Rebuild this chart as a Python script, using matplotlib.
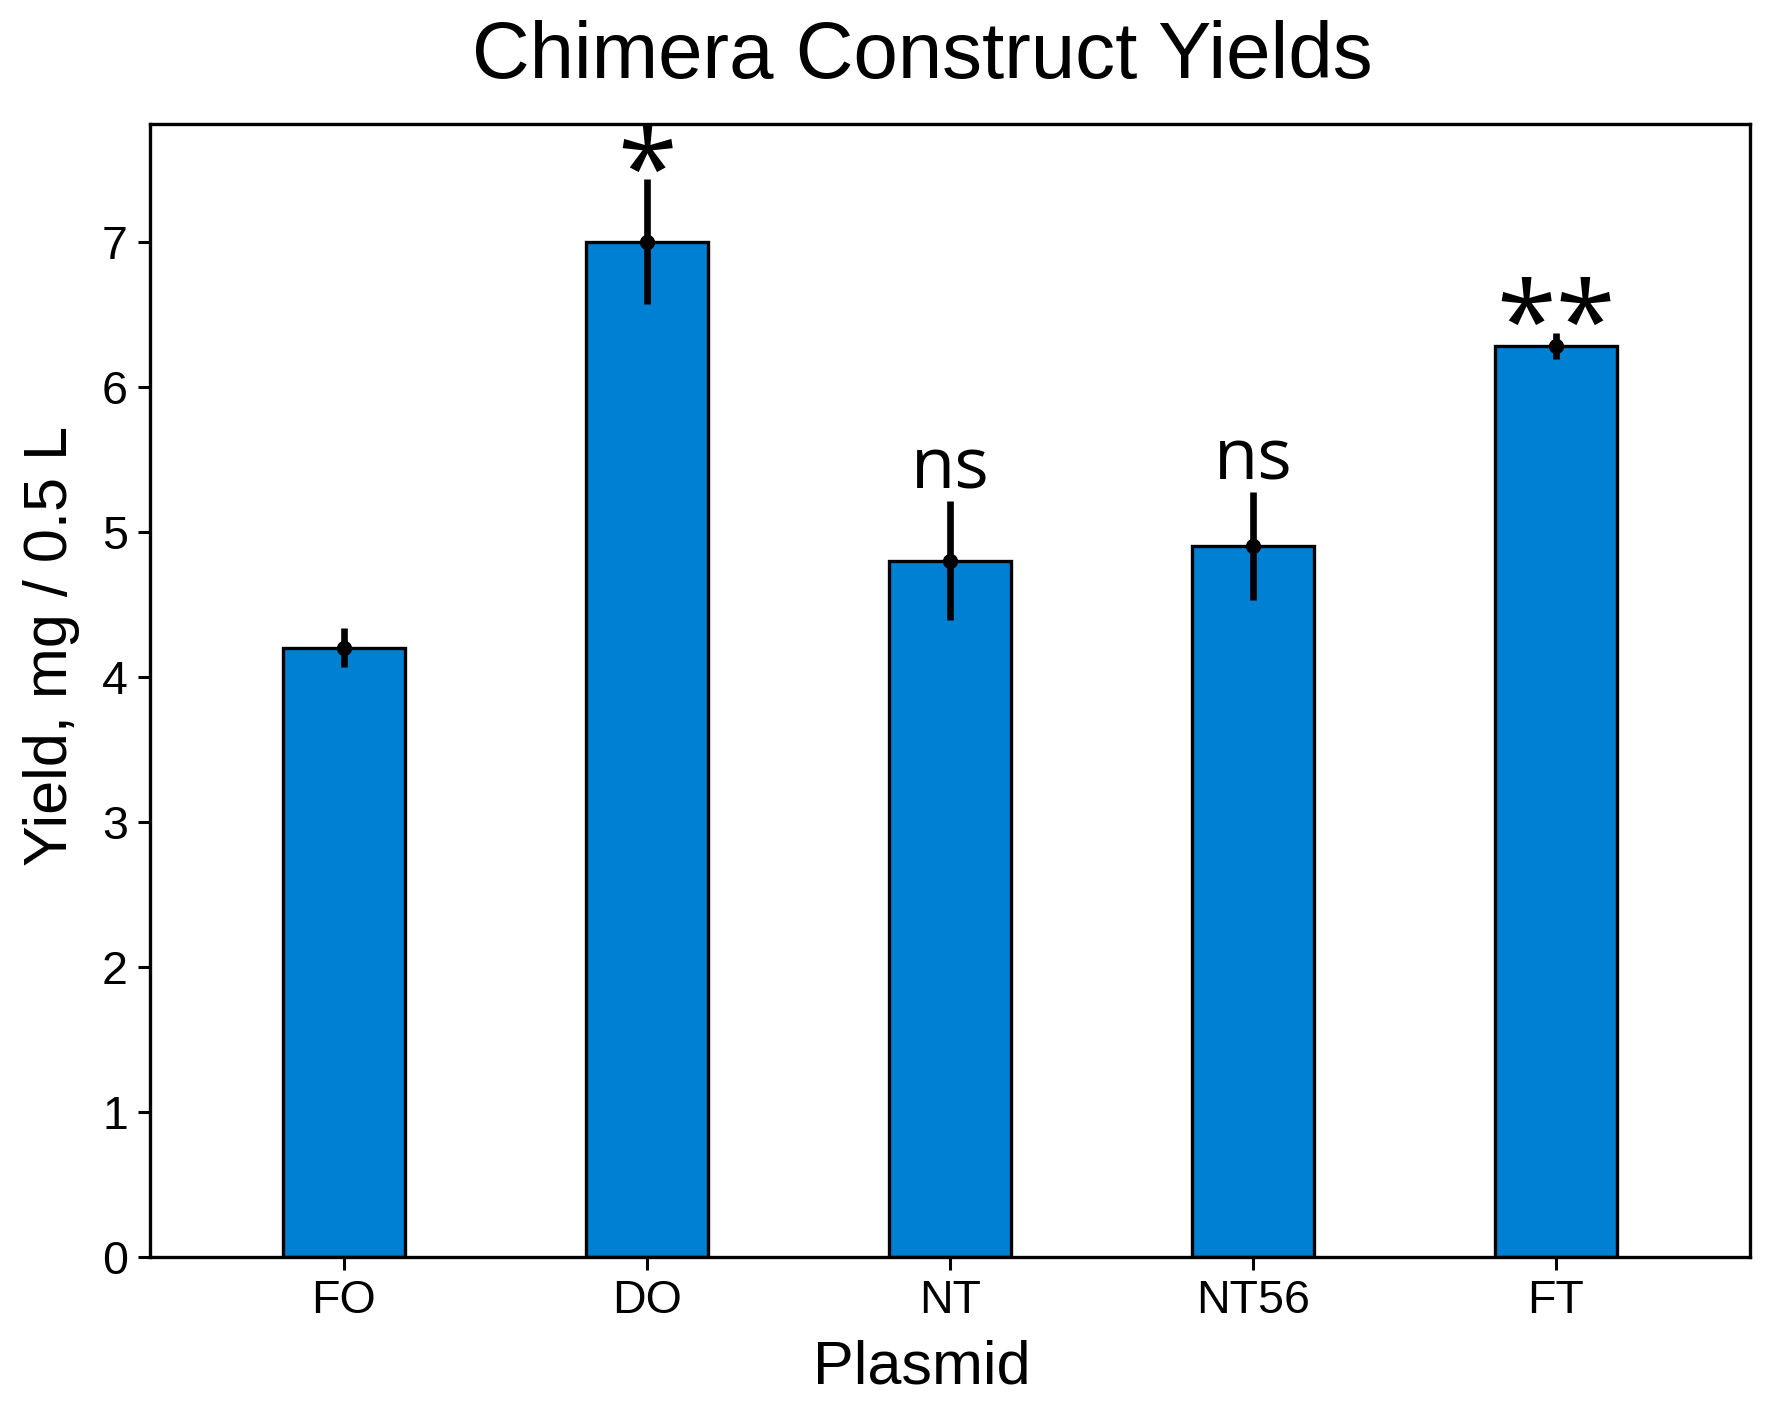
import matplotlib
matplotlib.use("Agg")
import matplotlib.pyplot as plt
import numpy as np
from matplotlib.textpath import TextPath
from matplotlib.font_manager import FontProperties

# ---- data ----
plasmids = ["FO", "DO", "NT", "NT56", "FT"]
yields = [4.2, 7.0, 4.8, 4.9, 6.28]
errors = [0.135, 0.43, 0.41, 0.37, 0.09]
significance = ["", "*", "ns", "ns", "**"]
yticks = [0, 1, 2, 3, 4, 5, 6, 7]

plt.rcParams["font.family"] = ["Liberation Sans", "DejaVu Sans"]

fig = plt.figure(figsize=(17.71, 14.08), dpi=100)
ax = fig.add_axes([150 / 1771, 1 - 1257 / 1408, 1600 / 1771, (1257 - 124) / 1408])

x = np.arange(len(plasmids))
ax.bar(x, yields, width=0.4, color="#0080d2", edgecolor="black", linewidth=2.4, zorder=2)
ax.errorbar(x, yields, yerr=errors, fmt="o", color="black", ecolor="black",
            elinewidth=4.8, markersize=10, capsize=0, zorder=3)

sig_fam = ["Open Sans", "DejaVu Sans"]
star_size = 78
ns_size = 52
for xi, yv, e, s in zip(x, yields, errors, significance):
    if not s:
        continue
    if "*" in s:
        # center the ink of the asterisks on the target height
        ext = TextPath((0, 0), s, size=star_size,
                       prop=FontProperties(family=sig_fam)).get_extents()
        yc = (ext.y0 + ext.y1) / 2.0
        ax.annotate(s, xy=(xi, yv + e + 0.22), xytext=(0, -yc),
                    textcoords="offset points", ha="center", va="baseline",
                    fontsize=star_size, family=sig_fam, color="black", zorder=4,
                    annotation_clip=False)
    else:
        ax.text(xi, yv + e + 0.09, s, ha="center", va="baseline", fontsize=ns_size,
                family=sig_fam, color="black", zorder=4)

ax.set_xlim(-0.64, 4.64)
ax.set_ylim(0, 7.81)
ax.set_xticks(x)
ax.set_xticklabels(plasmids)
ax.set_yticks(yticks)
ax.tick_params(axis="both", labelsize=33.5, length=9, width=2.2, pad=7, color="black")
for sp in ax.spines.values():
    sp.set_linewidth(2.4)

ax.set_xlabel("Plasmid", fontsize=44)
ax.xaxis.set_label_coords(0.4825, -0.073)
ax.set_ylabel("Yield, mg / 0.5 L", fontsize=44)
ax.yaxis.set_label_coords(-0.044, 0.539)
ax.set_title("Chimera Construct Yields", fontsize=57.5, pad=33, x=0.4825)

fig.savefig("out.png", dpi=100)
